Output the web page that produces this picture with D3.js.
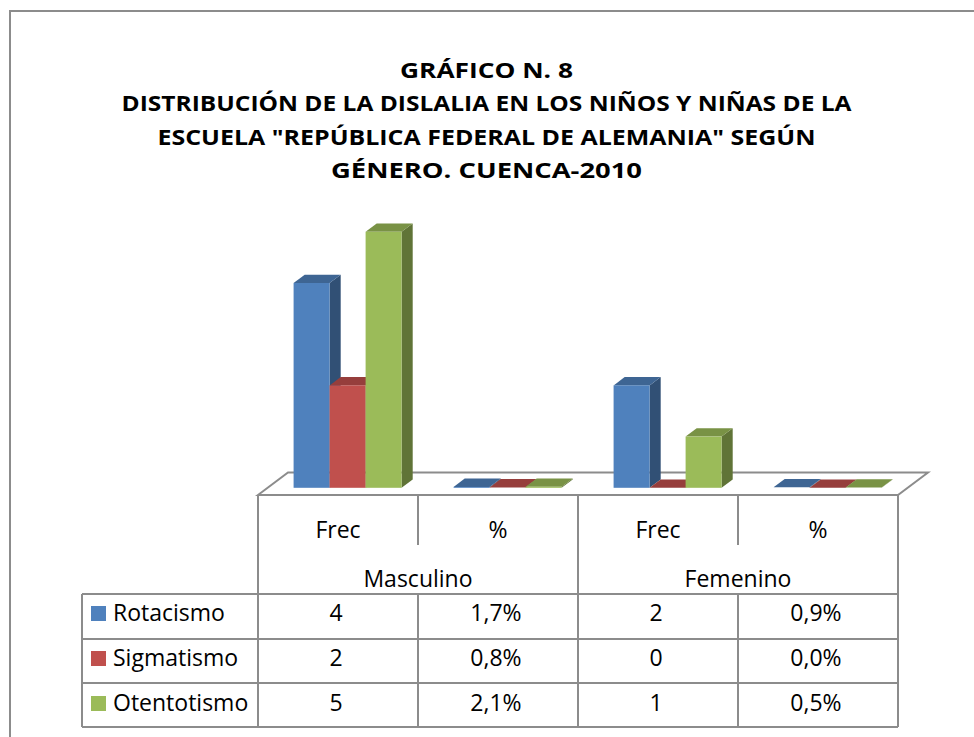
<!DOCTYPE html>
<html>
<head>
<meta charset="utf-8">
<script src="https://cdn.jsdelivr.net/npm/d3@7/dist/d3.min.js"></script>
<style>
  html, body { margin: 0; padding: 0; background: #fff; }
  svg { display: block; }
</style>
</head>
<body>
<svg id="chart" width="974" height="737"></svg>
<script>
// ---------- DATA ----------
const titleLines = [
  "GRÁFICO N. 8",
  "DISTRIBUCIÓN DE LA DISLALIA EN LOS NIÑOS Y NIÑAS DE LA",
  "ESCUELA \"REPÚBLICA FEDERAL DE ALEMANIA\" SEGÚN",
  "GÉNERO. CUENCA-2010"
];
const sexes = ["Masculino", "Femenino"];
const measures = ["Frec", "%"];
const series = ["Rotacismo", "Sigmatismo", "Otentotismo"];
const seriesColors = ["#4F81BD", "#C0504D", "#9BBB59"];
const frecMasculino = [4, 2, 5];
const pctMasculino = [0.017, 0.008, 0.021];
const frecFemenino = [2, 0, 1];
const pctFemenino = [0.009, 0.000, 0.005];

// columns built from the arrays
const columns = [
  { sex: "Masculino", measure: "Frec", values: frecMasculino },
  { sex: "Masculino", measure: "%", values: pctMasculino },
  { sex: "Femenino", measure: "Frec", values: frecFemenino },
  { sex: "Femenino", measure: "%", values: pctFemenino }
];
columns.forEach(c => c.key = c.sex + "|" + c.measure);

// ---------- LAYOUT ----------
const svg = d3.select("#chart");
const FONT = "'Open Sans', 'Noto Sans', sans-serif";
const GRID = "#8c8c8c";

// outer chart border (right/bottom edges fall outside the view)
svg.append("rect")
  .attr("x", 10).attr("y", 11).attr("width", 1000).attr("height", 800)
  .attr("fill", "none").attr("stroke", GRID).attr("stroke-width", 2);

// title
const titleWidths = [173, 730, 658, 311];
const titleBase = [78, 111, 145, 178];
svg.append("g").selectAll("text").data(titleLines).join("text")
  .attr("x", 486.5).attr("y", (d, i) => titleBase[i])
  .attr("text-anchor", "middle")
  .attr("font-family", FONT).attr("font-weight", "bold").attr("font-size", 22)
  .attr("textLength", (d, i) => titleWidths[i])
  .attr("lengthAdjust", "spacingAndGlyphs")
  .attr("fill", "#000")
  .text(d => d);

// scales
const x = d3.scaleBand().domain(columns.map(c => c.key)).range([258, 898]);
const xs = d3.scaleBand().domain(series).range([0, x.bandwidth()])
  .paddingInner(0).paddingOuter(0.722);
const y = d3.scaleLinear().domain([0, 5]).range([495, 239]);

// 3D depth geometry
const depthDX = 30, depthDY = -22.5;
const f0 = 0.32, f1 = 0.69;

// floor
const fl = x.range()[0], fr = x.range()[1], fy = y(0);
svg.append("polygon")
  .attr("points", [[fl, fy], [fl + depthDX, fy + depthDY], [fr + depthDX, fy + depthDY], [fr, fy]].map(p => p.join(",")).join(" "))
  .attr("fill", "#fff").attr("stroke", GRID).attr("stroke-width", 2)
  .attr("stroke-linejoin", "miter");

function shade(c, k) {
  const r = d3.rgb(c);
  return d3.rgb(r.r * k, r.g * k, r.b * k).formatHex();
}

// bars
const gBars = svg.append("g");
columns.forEach(col => {
  series.forEach((s, i) => {
    const v = col.values[i];
    const x0 = x(col.key) + xs(s) + depthDX * f0;
    const x1 = x0 + xs.bandwidth();
    const yTop = y(v) + depthDY * f0;
    const yBot = y(0) + depthDY * f0;
    const ddx = depthDX * (f1 - f0), ddy = depthDY * (f1 - f0);
    const c = seriesColors[i];
    const pts = a => a.map(p => p.join(",")).join(" ");
    gBars.append("polygon")
      .attr("points", pts([[x1, yTop], [x1 + ddx, yTop + ddy], [x1 + ddx, yBot + ddy], [x1, yBot]]))
      .attr("fill", shade(c, 0.62));
    gBars.append("polygon")
      .attr("points", pts([[x0, yTop], [x1, yTop], [x1 + ddx, yTop + ddy], [x0 + ddx, yTop + ddy]]))
      .attr("fill", shade(c, 0.78));
    if (yBot - yTop > 0.5) {
      gBars.append("rect")
        .attr("x", x0).attr("y", yTop)
        .attr("width", x1 - x0).attr("height", yBot - yTop)
        .attr("fill", c);
    }
  });
});

// ---------- DATA TABLE ----------
const tTop = y(0);
const rowLines = [594, 639, 683, 727];
const legendLeft = 82;
const gT = svg.append("g").attr("stroke", GRID).attr("stroke-width", 2).attr("fill", "none");
const line = (x1, y1, x2, y2) => gT.append("line").attr("x1", x1).attr("y1", y1).attr("x2", x2).attr("y2", y2);

// vertical lines
const colEdges = [fl].concat(columns.map(c => x(c.key) + x.bandwidth()));
colEdges.forEach((cx, i) => {
  if (i === 1 || i === 3) {
    line(cx, tTop, cx, 545);
    line(cx, rowLines[0], cx, rowLines[3]);
  } else {
    line(cx, tTop, cx, rowLines[3]);
  }
});
line(legendLeft, rowLines[0], legendLeft, rowLines[3]);
rowLines.forEach(ry => line(legendLeft, ry, fr, ry));

const txt = svg.append("g").attr("font-family", FONT).attr("font-size", 23).attr("fill", "#000");

// measure headers
columns.forEach(col => {
  txt.append("text").attr("x", x(col.key) + x.bandwidth() / 2).attr("y", 538)
    .attr("text-anchor", "middle").text(col.measure);
});
// sex headers
sexes.forEach(sx => {
  const cols = columns.filter(c => c.sex === sx);
  const a = x(cols[0].key), b = x(cols[cols.length - 1].key) + x.bandwidth();
  txt.append("text").attr("x", (a + b) / 2).attr("y", 587)
    .attr("text-anchor", "middle").text(sx);
});

// rows
const rowBase = [621, 666, 711];
const fmtPct = v => d3.format(".1%")(v).replace(".", ",");
series.forEach((s, i) => {
  svg.append("rect").attr("x", 91).attr("y", rowBase[i] - 15)
    .attr("width", 15).attr("height", 15).attr("fill", seriesColors[i]);
  txt.append("text").attr("x", 113).attr("y", rowBase[i]).text(s);
  columns.forEach(col => {
    const v = col.values[i];
    txt.append("text").attr("x", x(col.key) + x.bandwidth() / 2 - 2).attr("y", rowBase[i])
      .attr("text-anchor", "middle")
      .text(col.measure === "%" ? fmtPct(v) : String(v));
  });
});
</script>
</body>
</html>
